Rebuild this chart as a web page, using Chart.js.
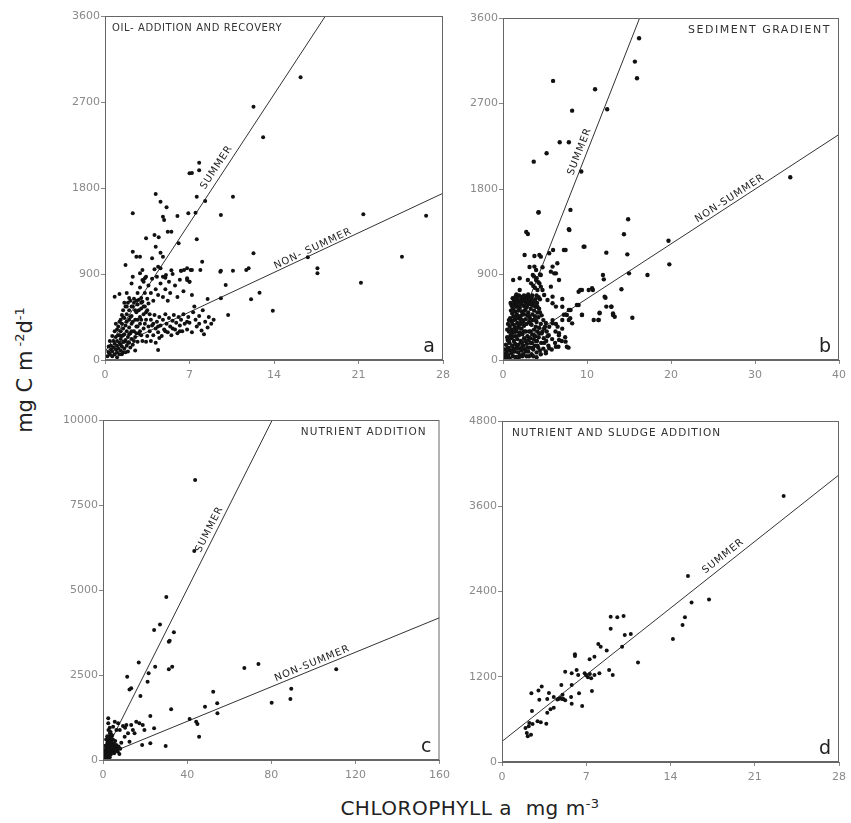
<!DOCTYPE html>
<html>
<head>
<meta charset="utf-8">
<script src="https://cdn.jsdelivr.net/npm/chart.js@4.4.0/dist/chart.umd.min.js"></script>
<style>
  body { margin: 0; background: #fff; width: 851px; height: 823px; position: relative; overflow: hidden; font-family: "DejaVu Sans", sans-serif; }
  canvas { position: absolute; }
  #ytitle { position: absolute; left: 24px; top: 370px; transform: translate(-50%, -50%) rotate(-90deg); font-size: 21px; white-space: nowrap; color: #222; }
  #xtitle { position: absolute; left: 470px; top: 808px; transform: translate(-50%, -50%); font-size: 20px; white-space: nowrap; color: #222; letter-spacing: 0.5px; }
  sup { font-size: 13px; }
</style>
</head>
<body>
<canvas id="pa" width="400" height="385" style="left:55px;top:0px"></canvas>
<canvas id="pb" width="396" height="385" style="left:455px;top:0px"></canvas>
<canvas id="pc" width="402" height="385" style="left:53px;top:400px"></canvas>
<canvas id="pd" width="396" height="387" style="left:455px;top:400px"></canvas>
<div id="ytitle">mg C m<sup> -2</sup>d<sup>-1</sup></div>
<div id="xtitle">CHLOROPHYLL a&nbsp; mg m<sup>-3</sup></div>
<script>
// chlorophyll a (mg m-3), production (mg C m-2 d-1)
const oilPoints = [
  [16.2,2958],[12.3,2651],[13.1,2330],[7.8,2065],[7.0,1954],[7.2,1957],[7.8,1985],[4.2,1737],[4.6,1657],[5.1,1598],
  [2.3,1535],[4.8,1500],[4.9,1465],[6.0,1507],[6.9,1535],[7.5,1541],[7.6,1709],[8.3,1664],[9.6,1517],[10.6,1709],
  [21.4,1524],[26.6,1510],[12.3,1116],[24.6,1081],[17.6,960],[17.6,907],[21.2,809],[13.9,516],[12.8,704],[12.1,635],
  [11.7,942],[11.9,960],[10.6,935],[9.6,935],[10.2,471],[10.0,785],[9.6,646],[8.5,638],[7.9,942],[7.1,942],
  [6.3,935],[6.8,837],[6.1,1221],[7.6,1263],[5.2,1343],[5.5,1343],[3.4,1273],[4.1,1308],[4.2,1186],[4.45,1284],
  [2.3,1133],[2.6,1081],[2.9,1081],[3.9,1064],[4.6,1123],[4.8,1081],[1.7,994],[0.8,662],[4.4,105],[8.05,1029],
  [2.3,872],[2.9,907],[3.1,942],[3.3,855],[3.1,837],[4.1,949],[4.4,977],[4.6,960],[4.8,872],[5.05,890],
  [6.55,942],[6.8,855],[7.0,820],[7.2,942],[9.55,924],[16.8,1074],
  [0.2,40],[0.3,80],[0.4,60],[0.5,110],[0.5,150],[0.6,90],[0.7,130],[0.7,200],[0.8,60],[0.8,170],
  [0.9,110],[0.9,240],[1.0,80],[1.0,150],[1.0,200],[1.1,120],[1.1,260],[1.2,60],[1.2,180],[1.3,100],
  [1.3,220],[1.3,300],[1.4,140],[1.4,250],[1.5,80],[1.5,190],[1.5,330],[1.6,120],[1.6,270],[1.7,210],
  [1.7,360],[1.8,150],[1.8,300],[1.9,90],[1.9,240],[2.0,180],[2.0,340],[2.1,130],[2.1,280],[2.2,220],
  [2.2,380],[2.3,160],[2.4,300],[2.5,100],[2.5,240],[2.6,350],[2.7,190],[2.8,280],[0.6,250],[1.0,320],
  [1.2,400],[1.4,380],
  [0.3,140],[0.4,200],[0.6,40],[0.8,300],[0.9,380],[1.0,30],[1.1,350],[1.2,260],[1.3,160],[1.4,60],
  [1.5,260],[1.6,190],[1.7,80],[1.8,400],[1.9,180],[2.0,270],[2.1,450],[2.2,300],[2.3,400],[2.4,200],
  [2.5,520],[2.6,280],[2.7,350],[2.8,520],[2.9,300],[3.0,420],[3.1,200],[3.2,560],[3.3,380],[3.4,500],
  [3.6,350],[3.0,600],[2.2,560],[1.8,560],[1.5,450],[2.6,620],[3.7,480],[4.0,380],[4.4,350],[5.0,300],
  [5.6,330],[6.2,300],[6.8,400],[7.8,380],
  [1.3,420],[1.4,470],[1.5,520],[1.6,440],[1.7,560],[1.8,480],[1.9,600],[2.0,420],[2.0,520],[2.1,620],
  [2.2,460],[2.3,560],[2.4,600],[2.5,420],[2.6,500],[2.7,580],[2.8,630],[2.9,450],[3.0,540],[3.1,610],
  [3.2,480],[3.3,560],[3.4,420],[3.5,520],[3.6,590],[2.4,640],[2.0,650],[1.6,600],
  [3.7,300],[3.8,420],[3.9,360],[4.0,260],[4.1,470],[4.2,330],[4.3,400],[4.4,290],[4.5,450],[4.6,360],
  [4.7,250],[4.8,420],[4.9,320],[5.0,480],[5.1,380],[5.2,290],[5.3,440],[5.4,350],[5.5,260],[5.6,410],
  [5.7,470],[5.8,320],[5.9,390],[6.0,280],[6.1,450],[6.2,360],[6.3,420],[6.4,300],[6.5,480],[6.6,380],
  [3.5,250],[3.2,330],[3.0,260],[2.9,380],[3.4,190],[3.8,200],[4.2,180],[4.5,230],[2.7,420],
  [6.8,320],[6.9,450],[7.0,390],[7.2,290],[7.3,500],[7.5,420],[7.6,350],[7.8,460],[8.0,310],[8.1,520],
  [8.3,400],[8.5,340],[8.6,450],[8.8,380],[9.0,420],[7.4,560],[8.2,270],
  [2.7,700],[2.9,760],[3.0,650],[3.2,820],[3.3,700],[3.5,640],[3.6,780],[3.8,700],[3.9,850],[4.0,620],
  [4.2,740],[4.4,680],[4.6,800],[4.8,660],[5.0,740],[5.2,620],[5.0,860],[4.3,870],[3.4,870],[2.2,800],
  [1.8,700],[1.2,690],
  [5.4,700],[5.6,900],[5.8,780],[6.0,660],[6.2,840],[6.5,720],[6.8,960],[7.0,820],[7.2,680],[6.3,935],
  [5.5,940],[5.3,820]
];
const oilSummer = [[0, 85], [18.26, 3600]];
const oilNonSummer = [[0, 87], [28, 1745]];

const sedimentPoints = [
  [0.2,20],[0.25,60],[0.15,110],
  [0.4,30],[0.45,90],[0.35,160],[0.5,240],
  [0.6,50],[0.65,130],[0.55,210],[0.7,300],[0.6,380],
  [0.8,20],[0.85,100],[0.75,180],[0.9,260],[0.8,350],[0.85,440],[0.95,520],
  [1.0,70],[1.1,150],[0.95,230],[1.05,320],[1.0,410],[1.1,490],[1.0,580],[1.15,650],
  [1.2,40],[1.25,120],[1.3,200],[1.2,290],[1.3,370],[1.25,460],[1.2,540],[1.3,620],
  [1.4,90],[1.45,170],[1.5,250],[1.4,340],[1.5,430],[1.45,510],[1.4,600],[1.5,670],
  [1.6,30],[1.65,140],[1.7,220],[1.6,300],[1.7,390],[1.65,480],[1.6,560],[1.7,640],
  [1.8,80],[1.85,160],[1.9,260],[1.8,350],[1.9,440],[1.85,520],[1.8,610],[1.9,680],
  [2.0,50],[2.05,120],[2.1,200],[2.0,290],[2.1,380],[2.05,460],[2.0,550],[2.1,630],
  [2.2,100],[2.25,180],[2.3,270],[2.2,330],[2.3,420],[2.25,510],[2.2,590],[2.3,660],
  [2.4,60],[2.45,150],[2.5,230],[2.4,400],[2.5,480],[2.45,570],[2.4,640],
  [2.6,110],[2.65,200],[2.7,430],[2.6,520],[2.7,600],[2.65,670],
  [2.8,40],[2.85,170],[2.9,250],[2.8,380],[2.9,470],[2.85,560],[2.8,650],
  [3.0,90],[3.05,210],[3.1,400],[3.0,500],[3.1,590],[3.05,660],
  [3.2,130],[3.25,230],[3.3,300],[3.2,440],[3.3,540],[3.25,630],
  [3.4,60],[3.45,180],[3.5,270],[3.4,370],[3.5,480],[3.45,580],[3.4,650],
  [3.6,110],[3.65,220],[3.7,320],[3.6,420],[3.7,520],[3.65,610],
  [3.8,150],[3.85,250],[3.9,350],[3.8,460],[3.9,560],[3.85,640],
  [4.0,80],[4.05,200],[4.1,300],[4.0,400],[4.1,500],[4.05,600],
  [4.2,130],[4.25,240],[4.3,340],[4.2,450],[4.3,540],[4.25,660],
  [4.5,60],[4.55,180],[4.6,280],[4.5,380],[4.6,470],
  [4.8,120],[4.85,230],[4.9,330],[4.8,420],
  [5.1,90],[5.15,200],[5.2,300],[5.1,390],
  [5.4,150],[5.45,260],[5.5,350],
  [5.8,110],[5.85,220],[5.9,420],
  [6.2,180],[6.25,300],[6.3,380],
  [6.6,140],[6.65,260],
  [7.0,200],[7.05,330],
  [7.4,240],[7.8,130],
  [0.3,40],[0.5,120],[0.7,200],[0.9,300],[1.1,380],[1.1,560],[1.3,420],[1.3,580],[1.5,320],[1.5,640],
  [1.7,460],[1.7,600],[1.9,340],[1.9,560],[2.1,420],[2.1,600],[2.3,140],[2.3,480],[2.5,360],[2.5,620],
  [2.7,300],[2.7,540],[2.9,130],[2.9,620],[3.1,300],[3.1,460],[3.3,380],[3.3,600],[3.5,130],[3.5,420],
  [3.7,260],[3.7,570],[3.9,200],[3.9,420],[4.1,150],[4.1,560],[4.3,280],[4.4,500],[4.7,300],[4.9,180],
  [5.0,350],[5.3,250],[0.5,320],[0.7,420],[0.9,600],[1.1,250],[1.3,100],[1.5,30],[1.7,120],[1.9,30],
  [2.1,280],[2.3,40],[2.5,300],[2.7,90],[3.1,40],[3.3,180],[3.6,40],[4.0,30],[4.4,100],[2.0,670],
  [2.5,680],[3.0,690],[3.5,680],[4.0,680],[1.6,690],[4.4,640],
  [16.2,3387],[15.7,3141],[15.95,2966],[5.96,2938],[10.96,2850],[8.23,2625],[12.4,2640],[6.75,2292],[7.84,2292],[5.19,2176],
  [3.66,2088],[9.32,1984],[8.03,1580],[4.21,1552],[7.84,1376],[14.9,1481],[14.4,1323],[19.7,1256],[19.8,1007],[34.2,1924],
  [9.7,1193],[7.25,1158],[5.96,1158],[12.3,1130],[14.8,1112],[17.2,895],[15.0,912],[11.9,895],[12.0,849],[14.1,744],
  [10.7,737],[9.4,737],[9.0,719],[12.2,656],[12.9,561],[13.1,491],[13.3,456],[15.4,445],[11.5,498],[11.4,421],
  [10.8,421],[9.4,477],[8.04,526],[7.25,477],[7.06,561],[5.5,1123],[4.5,1088],[5.9,983],[6.3,912],[6.67,842],
  [5.7,772],[5.9,667],[4.5,895],[3.74,983],[7.06,642],[8.8,579],[7.84,421],[8.23,386],
  [4.25,1555],[2.77,1348],[2.96,1327],[7.9,1369],[2.57,1105],[3.74,1095],[4.33,1105],[7.45,1158],[9.6,1193],[3.16,979],
  [3.94,948],[4.7,976],[6.47,1018],[1.21,842],[1.99,860],[5.7,930],[6.1,912],[3.55,895],[3.94,842],[4.33,807],
  [4.7,737],[2.96,842],[3.35,807],[4.1,737],[4.5,772],[4.9,684],[5.3,632],[5.9,597],[6.3,562],[1.99,737],
  [2.38,667],[9.2,737],[10.2,737],[10.6,755],[9.0,579],[7.84,527],[7.6,474],[12.1,667],[12.3,562],[7.06,421],
  [8.0,439],[9.4,474],[5.9,386],[6.5,351],[6.67,281],[6.67,211],[6.3,140],[5.5,123],[5.1,70],[7.45,193],
  [7.6,140],[11.35,421],[11.5,491],[12.9,562],[13.1,474],
  [3.7,880],[4.0,860],[4.2,820],[3.6,780],[4.4,900],[3.8,760]
];
const sedimentSummer = [[0.3, 8], [16.27, 3600]];
const sedimentNonSummer = [[0, 70], [40, 2374]];

const nutrientPoints = [
  [0.3,30],[0.5,80],[0.6,150],[0.8,60],[0.9,220],[1.0,120],[1.2,300],[1.3,50],[1.4,180],[1.5,380],
  [1.6,100],[1.7,260],[1.8,450],[1.9,150],[2.0,330],[2.1,60],[2.2,520],[2.3,220],[2.4,400],[2.5,120],
  [2.6,600],[2.7,300],[2.8,480],[2.9,180],[3.0,700],[3.1,380],[3.2,80],[3.3,560],[3.4,260],[3.5,450],
  [3.6,820],[3.7,160],[3.8,640],[3.9,340],[4.0,520],[4.2,240],[4.3,720],[4.5,420],[4.7,600],[4.9,300],
  [5.1,480],[5.3,200],[5.5,380],[5.8,560],[6.0,280],[6.3,440],[6.6,340],[7.0,250],[7.4,400],[7.8,180],
  [8.2,330],[1.1,420],[2.0,700],[2.6,880],[3.2,950],[1.5,600],
  [43.8,8232],[43.4,6145],[30.1,4792],[27.1,3988],[24.3,3822],[33.7,3754],[31.3,3479],[31.7,3508],[17,2871],[24.8,2744],
  [31.3,2666],[32.9,2744],[11.5,2450],[21.7,2548],[21.2,2303],[12.6,2077],[13.4,2107],[17.8,1881],[67.2,2705],[73.9,2822],
  [89.5,2096],[80.2,1685],[89.1,1793],[110.9,2666],[52.4,2009],[54.3,1666],[48.5,1568],[54.4,1372],[32.4,1490],[41.2,1205],
  [44.3,1127],[44.9,1058],[45.7,686],[29.8,412],[22.5,490],[18.6,441],[12.6,539],[24.3,931],[22.5,1294],[15.8,1127],
  [17.3,1078],[18.9,1029],[19.7,882],[14.2,882],[15,784],[11.9,784],[11.1,1029],[13.4,1029],[8,882],[10.3,686],
  [8.7,510],[2.5,1225],[5.6,1127],[7.2,1078],[4.8,980],[6.4,882],[4.1,735],[2.5,1078],[3.3,784],[9.5,1000],[10.5,950]
];
const nutrientSummer = [[0, 100], [80.5, 10000]];
const nutrientNonSummer = [[0, 120], [160, 4184]];

const sludgePoints = [
  [23.4,3745],[15.45,2619],[15.75,2244],[17.2,2286],[15.2,2037],[15.0,1928],[14.2,1732],[9.03,2046],[9.58,2037],[10.1,2055],
  [9.03,1877],[10.2,1788],[10.7,1802],[9.98,1624],[11.3,1402],[8.0,1661],[8.2,1624],[8.7,1568],[6.06,1516],[6.06,1492],
  [7.28,1445],[7.68,1483],[8.9,1296],[9.2,1225],[5.25,1272],[5.79,1249],[6.2,1296],[6.33,1225],[6.87,1249],[7.14,1193],
  [7.41,1179],[7.68,1225],[8.09,1249],[7.0,1220],[7.3,1240],[7.47,1001],[5.79,1085],[4.93,1085],[6.4,968],[5.03,945],
  [2.44,968],[3.03,1006],[3.3,1062],[3.1,878],[3.76,887],[3.9,972],[4.3,915],[4.7,887],[4.98,887],[5.1,887],
  [5.25,868],[5.74,915],[5.79,821],[6.66,788],[3.76,695],[4.03,742],[4.3,765],[2.49,718],[2.27,549],[2.54,535],
  [2.22,502],[2.95,573],[3.22,559],[3.68,540],[2.06,408],[2.14,361],[2.41,385],[1.95,479],[4.6,880],[4.85,900]
];
const sludgeSummer = [[0, 290], [28, 4042]];

const oilXTicks = [0, 7, 14, 21, 28];
const oilYTicks = [0, 900, 1800, 2700, 3600];
const sedXTicks = [0, 10, 20, 30, 40];
const sedYTicks = [0, 900, 1800, 2700, 3600];
const nutXTicks = [0, 40, 80, 120, 160];
const nutYTicks = [0, 2500, 5000, 7500, 10000];
const sluXTicks = [0, 7, 14, 21, 28];
const sluYTicks = [0, 1200, 2400, 3600, 4800];

const toXY = arr => arr.map(([x, y]) => ({ x, y }));

const framePlugin = {
  id: 'frame',
  afterDatasetsDraw(chart, args, o) {
    const { ctx, chartArea: a, scales: { x, y } } = chart;
    ctx.save();
    ctx.strokeStyle = '#666';
    ctx.lineWidth = 1;
    ctx.strokeRect(a.left + 0.5, a.top + 0.5, a.width - 1, a.height - 1);

    ctx.fillStyle = '#333';
    ctx.font = o.titleFont;
    ctx.letterSpacing = o.titleSpacing;
    ctx.textBaseline = 'middle';
    ctx.textAlign = o.titleAlign;
    ctx.fillText(o.title, o.titleAlign === 'left' ? a.left + o.titleInset : a.right - o.titleInset, a.top + 12);
    ctx.letterSpacing = '0px';

    ctx.font = '19px "DejaVu Sans"';
    ctx.textAlign = 'right';
    ctx.textBaseline = 'alphabetic';
    ctx.fillStyle = '#222';
    ctx.fillText(o.letter, a.right - 8, a.bottom - 8);

    ctx.font = '10px "DejaVu Sans"';
    ctx.letterSpacing = '1px';
    ctx.textAlign = 'center';
    ctx.textBaseline = 'bottom';
    o.labels.forEach(l => {
      const d = chart.data.datasets[l.ds].data;
      const x0 = x.getPixelForValue(d[0].x), y0 = y.getPixelForValue(d[0].y);
      const x1 = x.getPixelForValue(d[1].x), y1 = y.getPixelForValue(d[1].y);
      const ang = Math.atan2(y1 - y0, x1 - x0);
      const px = x.getPixelForValue(l.at);
      const py = y0 + (px - x0) / (x1 - x0) * (y1 - y0);
      ctx.save();
      ctx.translate(px, py);
      ctx.rotate(ang);
      ctx.fillText(l.text, 0, -l.off);
      ctx.restore();
    });
    ctx.restore();
  }
};

function lineSet(pts) {
  return {
    type: 'line', data: toXY(pts), borderColor: '#333', borderWidth: 1,
    pointRadius: 0, fill: false, tension: 0
  };
}

function axis(ticks, width, isX) {
  return {
    type: 'linear', min: ticks[0], max: ticks[ticks.length - 1],
    afterBuildTicks: s => { s.ticks = ticks.map(v => ({ value: v })); },
    afterFit: s => { if (isX) s.height = 25; else s.width = width; },
    grid: { drawOnChartArea: false, tickLength: 4, color: '#888' },
    border: { display: true, color: '#666' },
    ticks: {
      color: '#8a8a8a', font: { size: 11, family: 'DejaVu Sans' }, padding: isX ? 5 : 1, maxRotation: 0,
      callback: v => String(v)
    }
  };
}

function panel(id, points, lines, xt, yt, yw, pad, frame, r) {
  new Chart(document.getElementById(id), {
    type: 'scatter',
    data: {
      datasets: [
        { data: toXY(points), backgroundColor: '#111', borderWidth: 0, pointRadius: r },
        ...lines.map(lineSet)
      ]
    },
    options: {
      responsive: false, animation: false, devicePixelRatio: 1,
      layout: { padding: pad },
      plugins: { legend: { display: false }, tooltip: { enabled: false }, frame },
      scales: { x: axis(xt, 0, true), y: axis(yt, yw, false) }
    },
    plugins: [framePlugin]
  });
}

panel('pa', oilPoints, [oilSummer, oilNonSummer], oilXTicks, oilYTicks, 50,
  { top: 16, right: 8, left: 0, bottom: 0 },
  { title: 'OIL- ADDITION AND RECOVERY', titleAlign: 'left', titleInset: 7, titleFont: '10px "DejaVu Sans"', titleSpacing: '0.6px', letter: 'a',
    labels: [{ ds: 1, text: 'SUMMER', at: 9.8, off: 3 }, { ds: 2, text: 'NON- SUMMER', at: 17.4, off: 0 }] }, 2);

panel('pb', sedimentPoints, [sedimentSummer, sedimentNonSummer], sedXTicks, sedYTicks, 48,
  { top: 18, right: 6, left: 0, bottom: 0 },
  { title: 'SEDIMENT GRADIENT', titleAlign: 'right', titleInset: 8, titleFont: '11px "DejaVu Sans"', titleSpacing: '1.5px', letter: 'b',
    labels: [{ ds: 1, text: 'SUMMER', at: 9.9, off: 2 }, { ds: 2, text: 'NON-SUMMER', at: 27.4, off: 1 }] }, 2.2);

panel('pc', nutrientPoints, [nutrientSummer, nutrientNonSummer], nutXTicks, nutYTicks, 50,
  { top: 20, right: 10, left: 0, bottom: 0 },
  { title: 'NUTRIENT ADDITION', titleAlign: 'right', titleInset: 13, titleFont: '10.5px "DejaVu Sans"', titleSpacing: '1px', letter: 'c',
    labels: [{ ds: 1, text: 'SUMMER', at: 53.6, off: 2 }, { ds: 2, text: 'NON-SUMMER', at: 100.6, off: 1 }] }, 2);

panel('pd', sludgePoints, [sludgeSummer], sluXTicks, sluYTicks, 47,
  { top: 21, right: 4, left: 0, bottom: 0 },
  { title: 'NUTRIENT AND SLUDGE ADDITION', titleAlign: 'left', titleInset: 10, titleFont: '10.5px "DejaVu Sans"', titleSpacing: '1px', letter: 'd',
    labels: [{ ds: 1, text: 'SUMMER', at: 18.8, off: 3 }] }, 2);
</script>
</body>
</html>
